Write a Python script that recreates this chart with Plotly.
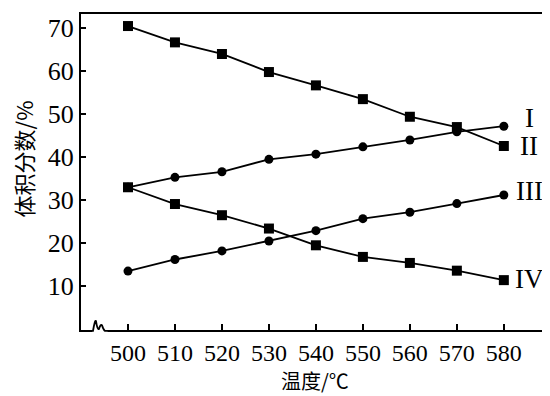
import plotly.graph_objects as go

temps = [500, 510, 520, 530, 540, 550, 560, 570, 580]
series_I = [33.0, 35.3, 36.6, 39.5, 40.7, 42.4, 44.0, 45.9, 47.2]
series_II = [70.5, 66.7, 64.0, 59.8, 56.7, 53.5, 49.4, 47.0, 42.6]
series_III = [13.5, 16.2, 18.2, 20.5, 22.9, 25.7, 27.2, 29.2, 31.2]
series_IV = [33.0, 29.1, 26.5, 23.4, 19.5, 16.8, 15.4, 13.6, 11.4]
labels = ["I", "II", "III", "IV"]
label_y = [49.2, 42.6, 32.2, 11.7]
y_ticks = [10, 20, 30, 40, 50, 60, 70]

fig = go.Figure()
def add(ys, sym, size):
    fig.add_trace(go.Scatter(x=temps, y=ys, mode="lines+markers",
                             line=dict(color="black", width=1.8),
                             marker=dict(symbol=sym, size=size, color="black"),
                             showlegend=False))
add(series_I, "circle", 9)
add(series_III, "circle", 9)
add(series_II, "square", 10)
add(series_IV, "square", 10)

for lab, ly in zip(labels, label_y):
    fig.add_annotation(x=585.4, y=ly, text=lab, showarrow=False,
                       font=dict(family="Liberation Serif", size=27, color="black"))

# axis titles
fig.add_annotation(xref="paper", yref="paper", x=0.501, y=-0.161, yanchor="middle",
                   text="温度/℃", showarrow=False,
                   font=dict(family="Noto Sans CJK SC", size=20, color="black"))
fig.add_annotation(xref="paper", yref="paper", x=-0.124, y=0.54, xanchor="center",
                   text="体积分数/%", showarrow=False, textangle=-90,
                   font=dict(family="Noto Sans CJK SC", size=22, color="black"))

# axis break squiggle
fig.add_shape(type="rect", xref="paper", yref="paper", x0=0.024, x1=0.057,
              y0=-0.012, y1=0.006, fillcolor="white", line=dict(width=0))
fig.add_shape(type="path", xref="paper", yref="paper",
              path="M 0.0 -0.003 L 0.0257 -0.003 Q 0.030 0.035 0.0321 0.028 Q 0.035 0.0 0.0385 0.003 Q 0.042 0.02 0.045 0.015 Q 0.048 0.0 0.0514 -0.003 L 0.06 -0.003",
              line=dict(color="black", width=1.8))

# page body has an 8px default margin, so the figure is 8px smaller
fig.update_layout(
    width=542, height=388,
    margin=dict(l=73, r=2, t=6, b=66, autoexpand=False),
    paper_bgcolor="white", plot_bgcolor="white",
    font=dict(family="Liberation Serif", color="black"),
    xaxis=dict(range=[490.0, 589.4], tickvals=temps, ticks="inside", ticklen=6,
               tickwidth=1.5, tickcolor="black", showline=True, linecolor="black",
               linewidth=2, mirror=True, showgrid=False, zeroline=False,
               automargin=False,
               tickfont=dict(size=24, family="Liberation Serif")),
    yaxis=dict(range=[-0.2, 73.3], tickvals=y_ticks, ticks="inside", ticklen=5,
               tickwidth=1.5, tickcolor="black", showline=True, linecolor="black",
               linewidth=2, mirror=True, showgrid=False, zeroline=False,
               automargin=False,
               tickfont=dict(size=26, family="Liberation Serif")),
)
fig.write_html("out.html")
